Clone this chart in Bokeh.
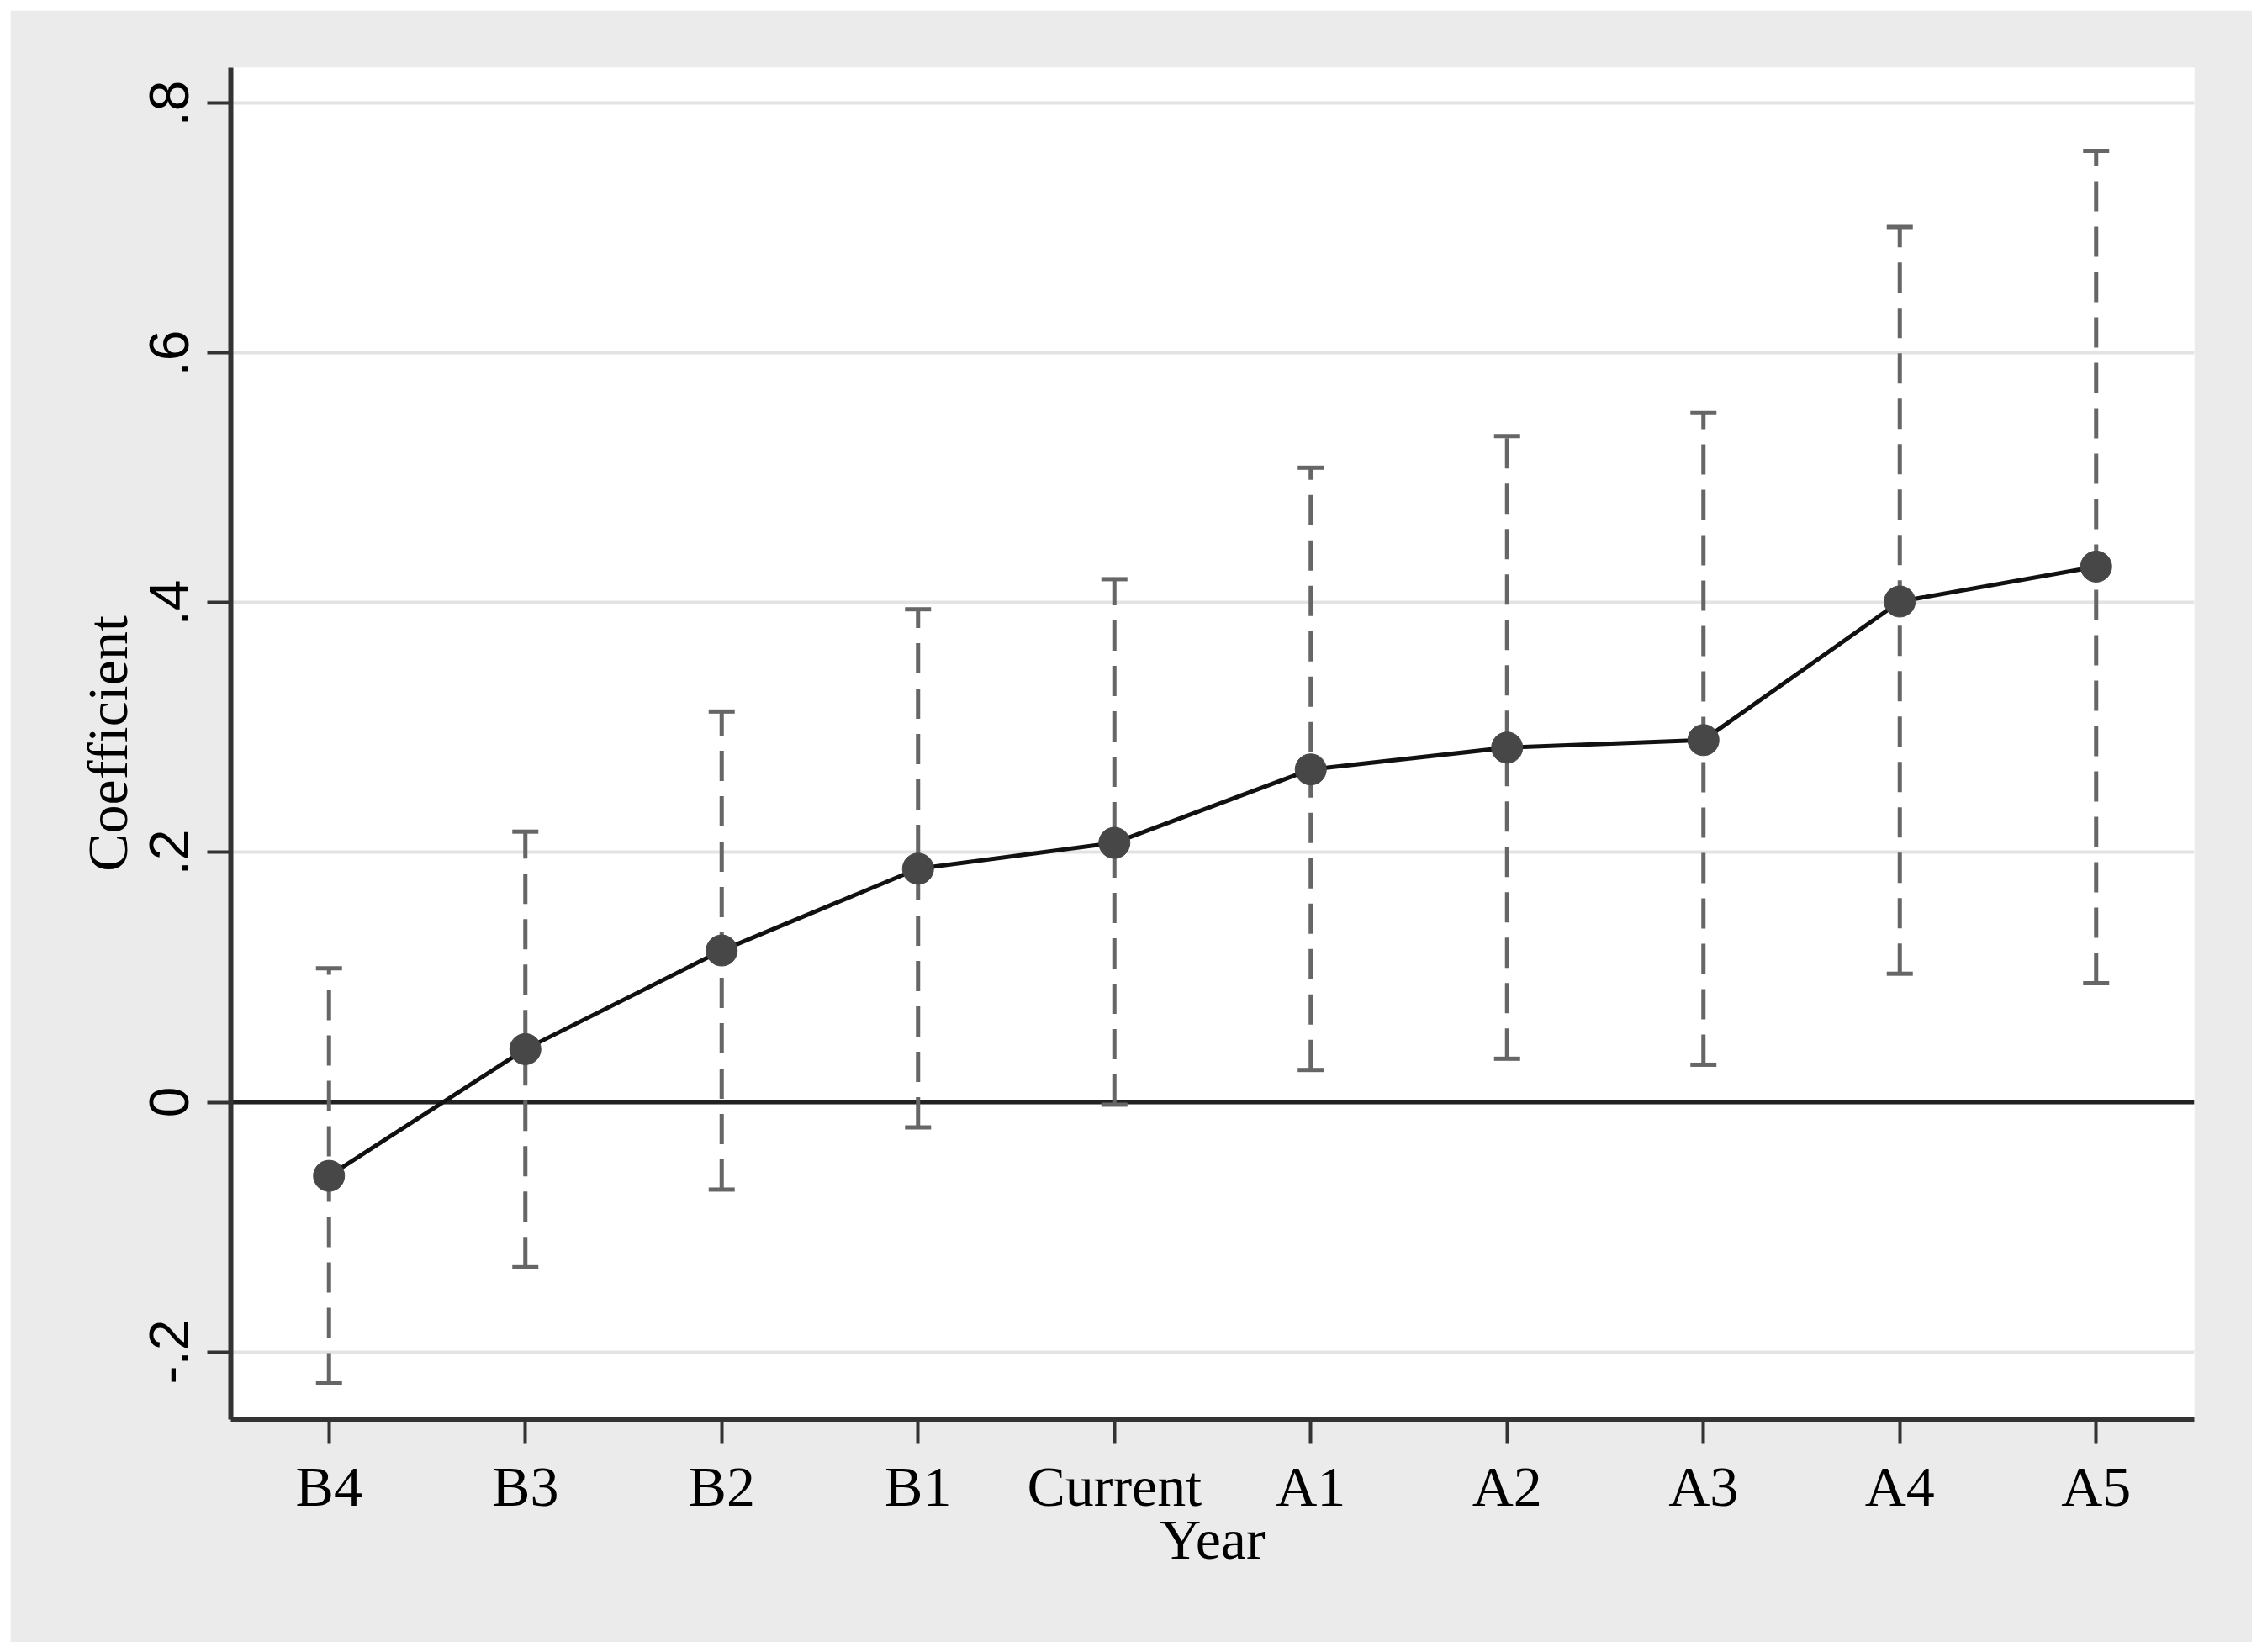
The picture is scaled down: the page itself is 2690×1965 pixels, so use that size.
import math
from bokeh.plotting import figure
from bokeh.models import Whisker, TeeHead, ColumnDataSource, FixedTicker, Span, Range1d
from bokeh.embed import file_html
from bokeh.resources import INLINE

# ---- data ----
years = ["B4", "B3", "B2", "B1", "Current", "A1", "A2", "A3", "A4", "A5"]
coef = [-0.059, 0.0425, 0.1215, 0.187, 0.2077, 0.2665, 0.284, 0.290, 0.401, 0.429]
ci_upper = [0.1073, 0.2167, 0.3129, 0.3948, 0.4189, 0.5082, 0.5335, 0.552, 0.701, 0.762]
ci_lower = [-0.2253, -0.1322, -0.070, -0.0202, -0.002, 0.0258, 0.0348, 0.030, 0.1029, 0.0953]
y_ticks = [-0.2, 0, 0.2, 0.4, 0.6, 0.8]
y_tick_labels = ["-.2", "0", ".2", ".4", ".6", ".8"]

src = ColumnDataSource(dict(x=years, coef=coef, upper=ci_upper, lower=ci_lower))

BG = "#EBEBEB"
SERIF = "Liberation Serif"
SANS = "Liberation Sans"

p = figure(x_range=years, y_range=Range1d(-0.2542, 0.8286),
           width=2666, height=1941, title=None,
           output_backend="svg", toolbar_location=None,
           min_border_left=262, min_border_right=69,
           min_border_top=68, min_border_bottom=265,
           background_fill_color="white", border_fill_color=BG,
           outline_line_color=None, margin=(12, 0, 0, 12))

# grid
p.xgrid.visible = False
p.ygrid.grid_line_color = "#E3E3E3"
p.ygrid.grid_line_width = 4

# axes common
for ax in (p.xaxis, p.yaxis):
    ax.axis_line_color = "#333333"
    ax.axis_line_width = 6
    ax.major_tick_line_color = "#333333"
    ax.major_tick_line_width = 4
    ax.major_tick_out = 28
    ax.major_tick_in = 0
    ax.minor_tick_line_color = None
    ax.major_label_text_color = "black"
    ax.axis_label_text_color = "black"
    ax.axis_label_text_font = SERIF
    ax.axis_label_text_font_size = "68px"
    ax.axis_label_text_font_style = "normal"

p.xaxis.axis_label = "Year"
p.xaxis.major_label_text_font = SERIF
p.xaxis.major_label_text_font_size = "68px"
p.xaxis.major_label_standoff = 13
p.xaxis.axis_label_standoff = -16

p.yaxis.axis_label = "Coefficient"
p.yaxis.ticker = FixedTicker(ticks=y_ticks)
p.yaxis.major_label_overrides = {t: l for t, l in zip(y_ticks, y_tick_labels)}
p.yaxis.major_label_orientation = "parallel"
p.yaxis.major_label_text_font = SANS
p.yaxis.major_label_text_font_size = "66px"
p.yaxis.major_label_standoff = 22
p.yaxis.axis_label_standoff = 10

# zero reference line
zero = Span(location=0, dimension="width", line_color="#222222", line_width=5, level="underlay")
p.add_layout(zero)

# confidence intervals
ci_col = "#666666"
w = Whisker(base="x", upper="upper", lower="lower", source=src,
            line_color=ci_col, line_width=5, line_dash="36 18",
            upper_head=TeeHead(size=31, line_color=ci_col, line_width=5),
            lower_head=TeeHead(size=31, line_color=ci_col, line_width=5))
p.add_layout(w)

# coefficients
p.line("x", "coef", source=src, line_color="#111111", line_width=5)
p.scatter("x", "coef", source=src, size=37, fill_color="#474747",
          line_color="#474747", line_width=1)

open("out.html", "w").write(file_html(p, INLINE))
